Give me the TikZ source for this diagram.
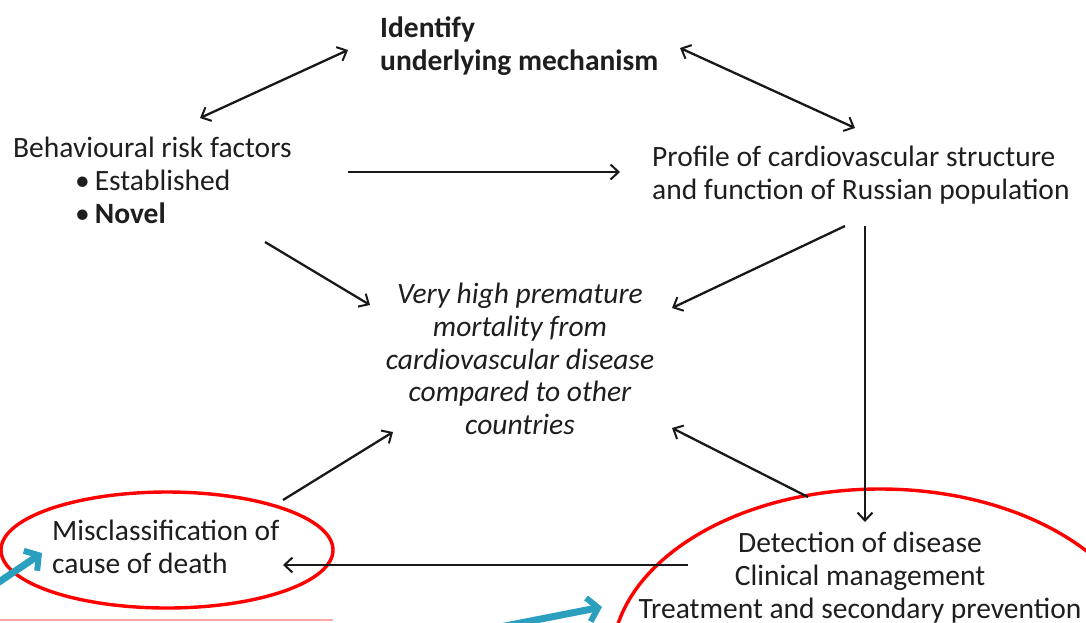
\documentclass[tikz,border=0pt]{standalone}
\usepackage{fontspec}
\setmainfont{Carlito}
\usetikzlibrary{arrows.meta}
\definecolor{teal1}{RGB}{42,160,190}
\definecolor{txt}{RGB}{30,30,30}
\tikzset{
  lbl/.style={inner sep=0pt, text=txt, font=\fontsize{29.5}{32.7}\selectfont},
  conn/.style={line width=2.3pt, black!90, -{Straight Barb[length=8pt,width=15pt,line width=2pt]}},
  bconn/.style={line width=2.3pt, black!90, {Straight Barb[length=8pt,width=15pt,line width=2pt]}-{Straight Barb[length=8pt,width=15pt,line width=2pt]}},
  ring/.style={draw=red, line width=3.4pt},
  tealarrow/.style={line width=7pt, teal1, -{Straight Barb[length=10pt,width=24pt,line width=6pt]}}
}
\begin{document}
\begin{tikzpicture}[x=1pt,y=-1pt]
\useasboundingbox (0,0) rectangle (1086,622);
\fill[white] (0,0) rectangle (1086,622);

% texts
\node[lbl, anchor=north west, align=left, font=\fontsize{29.5}{32.7}\selectfont\bfseries] (mech) at (380,17) {Identify\\underlying mechanism};
\node[lbl, anchor=north west, align=left] (beh) at (13,137) {Behavioural risk factors\\\hspace*{62pt}\textbullet\,Established\\\hspace*{62pt}\textbullet\,\textbf{Novel}};
\node[lbl, anchor=north west, align=left] (prof) at (652,146) {Profile of cardiovascular structure\\and function of Russian population};
\node[lbl, anchor=north, align=center, font=\fontsize{29.5}{32.7}\selectfont\itshape] (mort) at (520,283) {Very high premature\\mortality from\\cardiovascular disease\\compared to other\\countries};
\node[lbl, anchor=north west, align=left] (mis) at (52,520) {Misclassification of\\cause of death};
\node[lbl, anchor=north, align=center] (det) at (860,532) {Detection of disease\\Clinical management\\Treatment and secondary prevention};

% rings
\draw[ring] (167,550) ellipse [x radius=166, y radius=58];
\draw[ring] (880,660) ellipse [x radius=268, y radius=171];
\draw[red!35, line width=1.2pt] (0,620) -- (333,620);

% connector end points
\coordinate (m1) at (348,50);
\coordinate (b1) at (200,118);
\coordinate (m2) at (680,48);
\coordinate (p1) at (855,128);
\coordinate (b2) at (348,172);
\coordinate (p2) at (620,172);
\coordinate (b3) at (265,242);
\coordinate (o1) at (370,305);
\coordinate (p3) at (845,226);
\coordinate (o2) at (672,308);
\coordinate (p4) at (865,226);
\coordinate (d1) at (865,522);
\coordinate (c1) at (283,500);
\coordinate (o3) at (393,432);
\coordinate (d2) at (808,497);
\coordinate (o4) at (672,428);
\coordinate (d3) at (688,565);
\coordinate (c2) at (283,565);

\draw[bconn] (b1) -- (m1);
\draw[bconn] (m2) -- (p1);
\draw[conn] (b2) -- (p2);
\draw[conn] (b3) -- (o1);
\draw[conn] (p3) -- (o2);
\draw[conn] (p4) -- (d1);
\draw[conn] (c1) -- (o3);
\draw[conn] (d2) -- (o4);
\draw[conn] (d3) -- (c2);

% teal arrows
\coordinate (t1a) at (-4,584);
\coordinate (t1b) at (42,553);
\coordinate (t2a) at (500,627);
\coordinate (t2b) at (602,607);
\draw[tealarrow] (t1a) -- (t1b);
\draw[tealarrow] (t2a) -- (t2b);
\end{tikzpicture}
\end{document}
